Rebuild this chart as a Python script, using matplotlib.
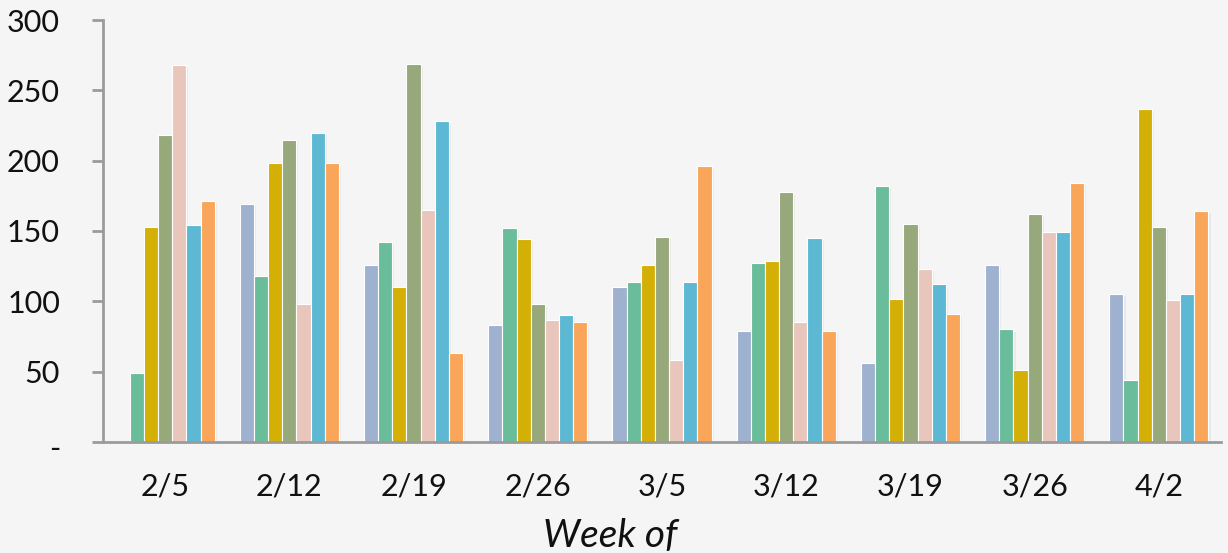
import matplotlib
matplotlib.use("Agg")
import matplotlib.pyplot as plt
import matplotlib.patheffects as pe
import matplotlib.transforms as mtransforms
import numpy as np

weeks = ["2/5", "2/12", "2/19", "2/26", "3/5", "3/12", "3/19", "3/26", "4/2"]
s1 = [0, 169, 126, 83, 110, 79, 56, 126, 105]
s2 = [49, 118, 142, 152, 114, 127, 182, 80, 44]
s3 = [153, 198, 110, 144, 126, 129, 102, 51, 237]
s4 = [218, 215, 269, 98, 146, 178, 155, 162, 153]
s5 = [268, 98, 165, 87, 58, 85, 123, 149, 101]
s6 = [154, 220, 228, 90, 114, 145, 112, 149, 105]
s7 = [171, 198, 63, 85, 196, 79, 91, 184, 164]
series = [s1, s2, s3, s4, s5, s6, s7]
colors = ["#9EB1CF", "#6ABD9B", "#D4AF05", "#97A87B", "#E9C6BC", "#5DB9D3", "#F9A65A"]
yticks = [0, 50, 100, 150, 200, 250, 300]
yticklabels = ["-", "50", "100", "150", "200", "250", "300"]

plt.rcParams['font.family'] = ['Lato', 'DejaVu Sans']
bg = "#F5F5F5"
fig = plt.figure(figsize=(12.28, 5.53), dpi=100, facecolor=bg)
ax = fig.add_axes([103/1228, 111/553, (1221-103)/1228, (442-20)/553])
ax.set_facecolor(bg)

x = np.arange(len(weeks))
n = len(series)
w = 0.114
for i, (vals, c) in enumerate(zip(series, colors)):
    off = (i - (n - 1) / 2) * w
    bars = ax.bar(x + off, vals, width=w, color=c, edgecolor="white", linewidth=0.8, zorder=2)
    for b in bars:
        b.set_path_effects([pe.SimplePatchShadow(offset=(1.5, -1.5), shadow_rgbFace="#999999", alpha=0.12), pe.Normal()])

ax.set_xlim(-0.5, len(weeks) - 0.5)
ax.set_ylim(0, 300)
ax.set_yticks(yticks)
ax.set_yticklabels(yticklabels)
ax.set_xticks(x)
ax.set_xticklabels(weeks)

for s in ["top", "right"]:
    ax.spines[s].set_visible(False)
for s in ["left", "bottom"]:
    ax.spines[s].set_color("#9B9B9B")
    ax.spines[s].set_linewidth(2)
    ax.spines[s].set_zorder(3)

ax.tick_params(axis="y", length=8, width=2, color="#9B9B9B", pad=23, labelsize=22, labelcolor="#111111")
ax.tick_params(axis="x", length=0, pad=22, labelsize=22, labelcolor="#111111")

# shift "-" label slightly down
for lab in ax.get_yticklabels():
    if lab.get_text() == "-":
        lab.set_transform(lab.get_transform() + mtransforms.ScaledTranslation(0, -5/100, fig.dpi_scale_trans))

fig.text(610/1228, 1 - 536/553, "Week of", ha="center", va="center", fontsize=28, style="italic", color="#111111")

fig.savefig("out.png", dpi=100, facecolor=bg)
